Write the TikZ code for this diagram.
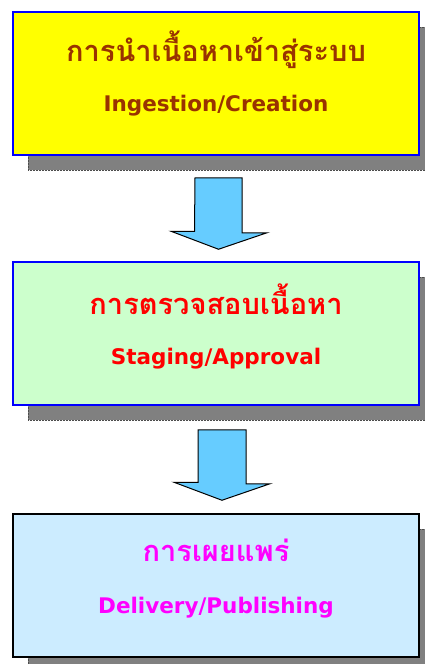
\documentclass[tikz,border=0pt]{standalone}
\usepackage{fontspec}
\setmainfont{DejaVu Sans}
\newfontfamily\thaifont[Script=Thai]{Loma}
\usetikzlibrary{shadows}

\definecolor{stepblue}{HTML}{0000FF}
\definecolor{ingfill}{HTML}{FFFF00}
\definecolor{ingtext}{HTML}{993300}
\definecolor{stgfill}{HTML}{CCFFCC}
\definecolor{stgtext}{HTML}{FF0000}
\definecolor{pubfill}{HTML}{CCECFF}
\definecolor{pubtext}{HTML}{FF00FF}
\definecolor{arrowfill}{HTML}{66CCFF}
\definecolor{shadowgray}{HTML}{808080}

\begin{document}
\begin{tikzpicture}[x=1pt,y=-1pt]
	\tikzstyle{stagebox}=[draw=stepblue,line width=1.5pt,minimum width=406pt,minimum height=143pt,inner sep=0pt,
		drop shadow={shadow xshift=15pt,shadow yshift=-15pt,fill=shadowgray,opacity=1,draw=black!70,densely dotted,line width=0.5pt}]
	\tikzstyle{thaitext}=[font=\thaifont\bfseries\fontsize{29}{31}\selectfont,inner sep=0pt]
	\tikzstyle{engtext}=[font=\bfseries\fontsize{21.5}{24}\selectfont,inner sep=0pt]
	\tikzstyle{blockarrow}=[draw=black,line width=1pt,fill=arrowfill,line join=miter]
	\useasboundingbox (0,0) rectangle (424,664);
	% the three stages
	\node (ing) [stagebox,fill=ingfill] at (216,83.5) {};
	\node (stg) [stagebox,fill=stgfill] at (216,333.5) {};
	\node (pub) [stagebox,fill=pubfill,draw=black] at (216,585.5) {};
	\node (ingth) [thaitext,text=ingtext] at ([yshift=34pt]ing.center) {การนำเนื้อหาเข้าสู่ระบบ};
	\node (ingen) [engtext,text=ingtext] at ([yshift=-22pt]ing.center) {Ingestion/Creation};
	\node (stgth) [thaitext,text=stgtext] at ([yshift=34pt]stg.center) {การตรวจสอบเนื้อหา};
	\node (stgen) [engtext,text=stgtext] at ([yshift=-25pt]stg.center) {Staging/Approval};
	\node (pubth) [thaitext,text=pubtext] at ([yshift=35pt]pub.center) {การเผยแพร่};
	\node (puben) [engtext,text=pubtext] at ([yshift=-22pt]pub.center) {Delivery/Publishing};
	% block arrows between the stages
	\draw[blockarrow] ([shift={(-21pt,-22pt)}]ing.south) -- ++(47,0) -- ++(0,55) -- ++(25,0)
		-- ([shift={(2.5pt,12pt)}]stg.north) -- ++(-47.5,-18) -- ++(23.5,0) -- cycle;
	\draw[blockarrow] ([shift={(-18pt,-24pt)}]stg.south) -- ++(48,0) -- ++(0,54) -- ++(24,0)
		-- ([shift={(6pt,13pt)}]pub.north) -- ++(-48,-18) -- ++(24,0) -- cycle;
\end{tikzpicture}
\end{document}
